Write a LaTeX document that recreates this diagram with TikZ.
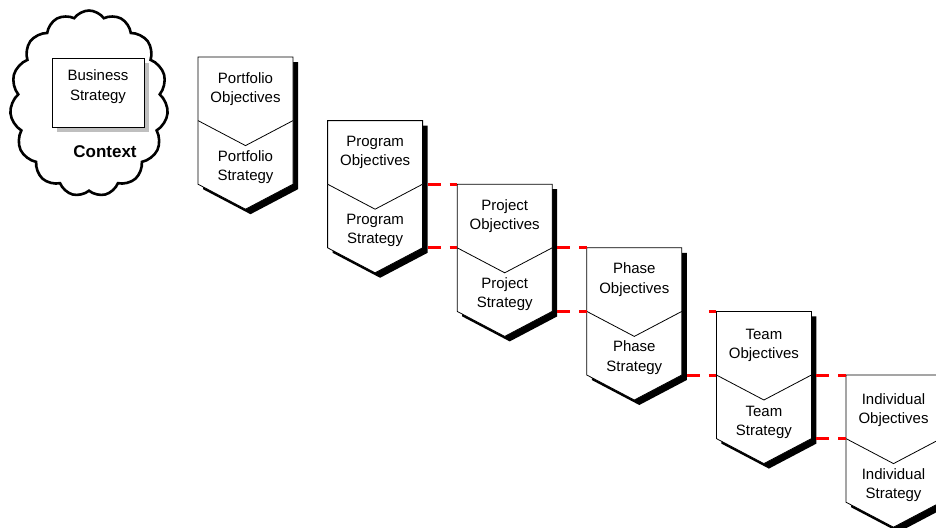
\documentclass[tikz,border=0pt]{standalone}
\usepackage{fontspec}
\setmainfont{Liberation Sans}
\usetikzlibrary{shapes.symbols}

\begin{document}
\begin{tikzpicture}[x=1pt,y=-1pt,
    chevpath/.style={insert path={-- ++(95,0) -- ++(0,127.2) -- ++(-47.5,25)
        -- ++(-47.5,-25) -- cycle}},
    blockline/.style={draw=black, line width=0.8pt, fill=white},
    blockshadow/.style={fill=black},
    link/.style={red, line width=3pt, dash pattern=on 13pt off 9pt},
    lbl/.style={font=\fontsize{15}{19.5}\selectfont, align=center,
        inner sep=0pt},
    ctx/.style={cloud, cloud puffs=15, cloud puff arc=110, aspect=0.85,
        draw=black, line width=2.6pt, minimum width=158pt,
        minimum height=186pt, inner sep=0pt}]

  \clip (0,0) rectangle (936,527);

  % ---- context cloud with the business strategy ----
  \node[ctx] (context) at (89,103.5) {};
  \fill[black!25] (57,63) rectangle (149,132);
  \node[draw=black, line width=0.8pt, fill=white, minimum width=92pt,
        minimum height=69pt] (biz) at (98,92.5) {};
  \node[lbl] (biztext) at (98,86.5) {Business\\Strategy};
  \node[font=\fontsize{17}{20}\selectfont\bfseries] (ctxtext) at (105,152)
      {Context};

  % ---- portfolio ----
  \coordinate (port) at (198,57);
  \fill[blockshadow] ([shift={(5,5)}]port) [chevpath];
  \draw[blockline] (port) [chevpath];
  \draw[blockline] ([shift={(0,63.6)}]port) -- ++(47.5,25) -- ++(47.5,-25);
  \node[lbl] (portobj) at ([shift={(47.5,32)}]port) {Portfolio\\Objectives};
  \node[lbl] (portstr) at ([shift={(47.5,110)}]port) {Portfolio\\Strategy};

  % ---- program ----
  \coordinate (prog) at (327.6,120.6);
  \fill[blockshadow] ([shift={(5,5)}]prog) [chevpath];
  \draw[blockline] (prog) [chevpath];
  \draw[blockline] ([shift={(0,63.6)}]prog) -- ++(47.5,25) -- ++(47.5,-25);
  \node[lbl] (progobj) at ([shift={(47.5,32)}]prog) {Program\\Objectives};
  \node[lbl] (progstr) at ([shift={(47.5,110)}]prog) {Program\\Strategy};

  % ---- project ----
  \coordinate (proj) at (457.2,184.2);
  \fill[blockshadow] ([shift={(5,5)}]proj) [chevpath];
  \draw[blockline] (proj) [chevpath];
  \draw[blockline] ([shift={(0,63.6)}]proj) -- ++(47.5,25) -- ++(47.5,-25);
  \node[lbl] (projobj) at ([shift={(47.5,32)}]proj) {Project\\Objectives};
  \node[lbl] (projstr) at ([shift={(47.5,110)}]proj) {Project\\Strategy};

  % ---- phase ----
  \coordinate (phase) at (586.8,247.8);
  \fill[blockshadow] ([shift={(5,5)}]phase) [chevpath];
  \draw[blockline] (phase) [chevpath];
  \draw[blockline] ([shift={(0,63.6)}]phase) -- ++(47.5,25) -- ++(47.5,-25);
  \node[lbl] (phaseobj) at ([shift={(47.5,32)}]phase) {Phase\\Objectives};
  \node[lbl] (phasestr) at ([shift={(47.5,110)}]phase) {Phase\\Strategy};

  % ---- team ----
  \coordinate (team) at (716.4,311.4);
  \fill[blockshadow] ([shift={(5,5)}]team) [chevpath];
  \draw[blockline] (team) [chevpath];
  \draw[blockline] ([shift={(0,63.6)}]team) -- ++(47.5,25) -- ++(47.5,-25);
  \node[lbl] (teamobj) at ([shift={(47.5,34)}]team) {Team\\Objectives};
  \node[lbl] (teamstr) at ([shift={(47.5,111)}]team) {Team\\Strategy};

  % ---- individual ----
  \coordinate (indiv) at (846,375);
  \fill[blockshadow] ([shift={(5,5)}]indiv) [chevpath];
  \draw[blockline] (indiv) [chevpath];
  \draw[blockline] ([shift={(0,63.6)}]indiv) -- ++(47.5,25) -- ++(47.5,-25);
  \node[lbl] (indivobj) at ([shift={(47.5,35)}]indiv) {Individual\\Objectives};
  \node[lbl] (indivstr) at ([shift={(47.5,110)}]indiv) {Individual\\Strategy};

  % ---- red links between the levels ----
  \coordinate (projmid) at ([shift={(0,63.6)}]proj);
  \coordinate (phasemid) at ([shift={(0,63.6)}]phase);
  \coordinate (teammid) at ([shift={(0,63.6)}]team);
  \coordinate (indivmid) at ([shift={(0,63.6)}]indiv);
  \draw[link] ([shift={(-29.6,0)}]proj) -- (proj);
  \draw[link] ([shift={(-29.6,0)}]projmid) -- (projmid);
  \draw[link] ([shift={(-29.6,0)}]phase) -- (phase);
  \draw[link] ([shift={(-29.6,0)}]phasemid) -- (phasemid);
  \draw[link] ([shift={(-7.6,0)}]team) -- (team);
  \draw[link] ([shift={(-29.6,0)}]teammid) -- (teammid);
  \draw[link] ([shift={(-29.6,0)}]indiv) -- (indiv);
  \draw[link] ([shift={(-29.6,0)}]indivmid) -- (indivmid);

\end{tikzpicture}
\end{document}
